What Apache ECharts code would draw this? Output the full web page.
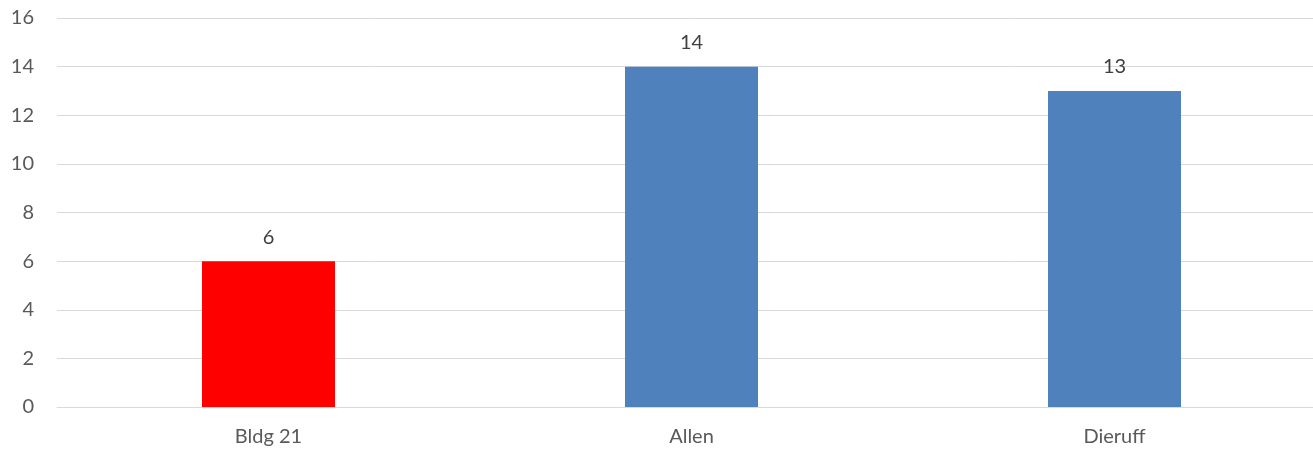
<!DOCTYPE html>
<html>
<head>
<meta charset="utf-8">
<script src="https://cdn.jsdelivr.net/npm/echarts@6/dist/echarts.min.js"></script>
<style>
  html, body { margin: 0; padding: 0; background: #ffffff; overflow: hidden; width: 1313px; height: 452px; }
  /* plot area runs slightly past the right edge of the page */
  #chart { width: 1326px; height: 452px; }
</style>
</head>
<body>
<div id="chart"></div>
<script>
// Counts per building
const categories = ['Bldg 21', 'Allen', 'Dieruff'];
const values = [6, 14, 13];
const barColors = ['#ff0000', '#4f81bd', '#4f81bd'];
const yTicks = { min: 0, max: 16, interval: 2 };

const chart = echarts.init(document.getElementById('chart'), null, { renderer: 'canvas' });
const textFont = 'Lato, "Open Sans", "Liberation Sans", sans-serif';

chart.setOption({
  animation: false,
  grid: { left: 57, top: 18, right: 0, bottom: 45, containLabel: false },
  xAxis: {
    type: 'category',
    data: categories,
    axisLine: { show: true, lineStyle: { color: '#d9d9d9', width: 1 } },
    axisTick: { show: false },
    axisLabel: { color: '#595959', fontSize: 20, fontFamily: textFont, margin: 20 }
  },
  yAxis: {
    type: 'value',
    min: yTicks.min,
    max: yTicks.max,
    interval: yTicks.interval,
    axisLine: { show: false },
    axisTick: { show: false },
    splitLine: { lineStyle: { color: '#d9d9d9', width: 1 } },
    axisLabel: { color: '#595959', fontSize: 20, fontFamily: textFont, margin: 23 }
  },
  series: [{
    type: 'bar',
    data: values.map((v, i) => ({ value: v, itemStyle: { color: barColors[i] } })),
    barWidth: 133,
    label: {
      show: true,
      position: 'top',
      distance: 14,
      color: '#404040',
      fontSize: 20,
      fontFamily: textFont
    }
  }]
});
</script>
</body>
</html>
